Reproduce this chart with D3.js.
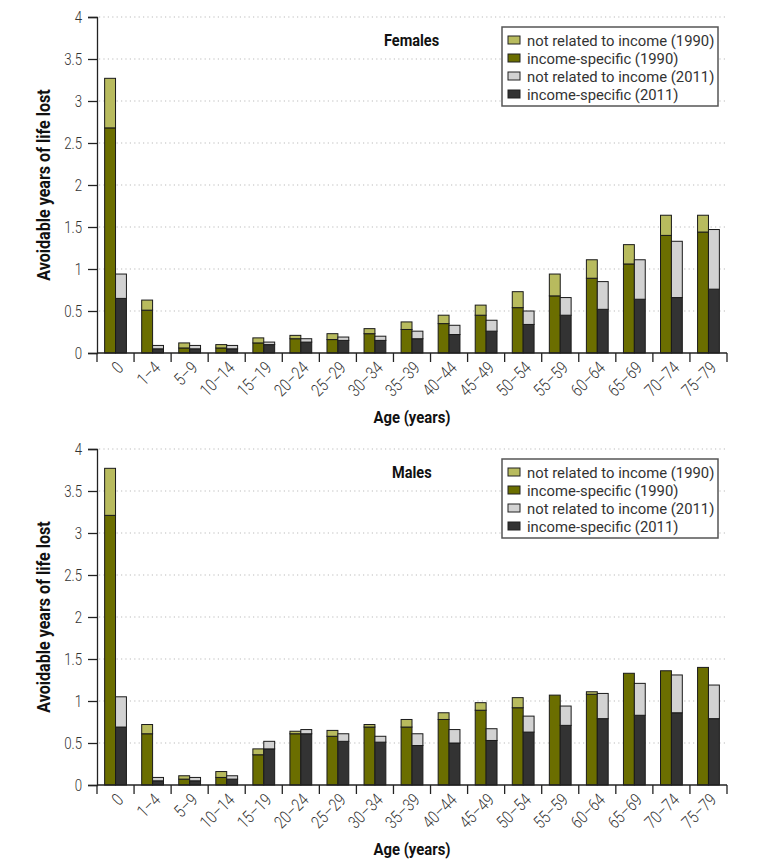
<!DOCTYPE html>
<html>
<head>
<meta charset="utf-8">
<script src="https://cdn.jsdelivr.net/npm/d3@7"></script>
<style>
  body { margin: 0; background: #fff; }
  text { font-family: Roboto, "Noto Sans", sans-serif; }
</style>
</head>
<body>
<script>
// categories
const ages = ["0", "1–4", "5–9", "10–14", "15–19", "20–24", "25–29", "30–34", "35–39",
              "40–44", "45–49", "50–54", "55–59", "60–64", "65–69", "70–74", "75–79"];

// Females
const femIncome1990 = [2.68, 0.51, 0.06, 0.06, 0.12, 0.17, 0.16, 0.23, 0.28, 0.35, 0.45, 0.54, 0.68, 0.89, 1.06, 1.40, 1.44];
const femOther1990  = [0.59, 0.12, 0.06, 0.04, 0.06, 0.04, 0.07, 0.06, 0.09, 0.10, 0.12, 0.19, 0.26, 0.22, 0.23, 0.24, 0.20];
const femIncome2011 = [0.65, 0.05, 0.05, 0.05, 0.10, 0.13, 0.15, 0.15, 0.17, 0.22, 0.26, 0.34, 0.45, 0.52, 0.64, 0.66, 0.76];
const femOther2011  = [0.29, 0.04, 0.04, 0.04, 0.03, 0.04, 0.04, 0.05, 0.09, 0.11, 0.13, 0.16, 0.21, 0.33, 0.47, 0.67, 0.71];

// Males
const maleIncome1990 = [3.21, 0.61, 0.07, 0.09, 0.36, 0.61, 0.58, 0.69, 0.69, 0.78, 0.89, 0.92, 1.07, 1.08, 1.33, 1.36, 1.40];
const maleOther1990  = [0.56, 0.11, 0.04, 0.07, 0.07, 0.03, 0.07, 0.03, 0.09, 0.08, 0.09, 0.12, 0.00, 0.03, 0.00, 0.00, 0.00];
const maleIncome2011 = [0.69, 0.05, 0.05, 0.07, 0.43, 0.61, 0.52, 0.51, 0.47, 0.50, 0.53, 0.63, 0.71, 0.79, 0.83, 0.86, 0.79];
const maleOther2011  = [0.36, 0.04, 0.04, 0.04, 0.09, 0.05, 0.09, 0.07, 0.14, 0.16, 0.14, 0.19, 0.23, 0.30, 0.38, 0.45, 0.40];

const yTicks = [0, 0.5, 1, 1.5, 2, 2.5, 3, 3.5, 4];
const legendLabels = ["not related to income (1990)", "income-specific (1990)",
                      "not related to income (2011)", "income-specific (2011)"];
const colors = ["#b8bb5e", "#6b6e00", "#d2d2d2", "#333333"];

const svg = d3.select("body").append("svg")
    .attr("width", 771)
    .attr("height", 868);

const left = 97, right = 727;

const x = d3.scaleBand().domain(ages).range([left, right]);
const xs = d3.scaleBand().domain(["1990", "2011"]).range([0, x.bandwidth()]).paddingOuter(0.7);

// the original font is condensed, so squeeze the text horizontally (sx)
function label(g, tx, ty, txt, size, weight, anchor, rot, sx) {
    return g.append("text")
        .attr("transform", `translate(${tx},${ty})` + (rot ? ` rotate(${rot})` : "") + ` scale(${sx},1)`)
        .attr("text-anchor", anchor)
        .attr("font-size", size)
        .attr("font-weight", weight)
        .attr("fill", weight == "bold" ? "#111" : "#333")
        .text(txt);
}

function panel(top, title, inc90, oth90, inc11, oth11) {
    const y = d3.scaleLinear().domain([0, 4]).range([top + 336, top]);
    const g = svg.append("g");

    // grid lines
    g.selectAll(".grid").data(yTicks.slice(1)).join("line")
        .attr("x1", left + 2).attr("x2", right)
        .attr("y1", d => y(d)).attr("y2", d => y(d))
        .attr("stroke", "#bbb").attr("stroke-width", 1.2)
        .attr("stroke-dasharray", "1.2,3.2");

    // bars
    const rows = ages.map((a, i) => ({age: a, i90: inc90[i], o90: oth90[i], i11: inc11[i], o11: oth11[i]}));
    const segs = [];
    rows.forEach(r => {
        segs.push({age: r.age, yr: "1990", y0: 0, y1: r.i90, c: colors[1]});
        if (r.o90 > 0) segs.push({age: r.age, yr: "1990", y0: r.i90, y1: r.i90 + r.o90, c: colors[0]});
        segs.push({age: r.age, yr: "2011", y0: 0, y1: r.i11, c: colors[3]});
        if (r.o11 > 0) segs.push({age: r.age, yr: "2011", y0: r.i11, y1: r.i11 + r.o11, c: colors[2]});
    });
    g.selectAll(".bar").data(segs).join("rect")
        .attr("x", d => x(d.age) + xs(d.yr))
        .attr("width", xs.bandwidth())
        .attr("y", d => y(d.y1))
        .attr("height", d => y(d.y0) - y(d.y1))
        .attr("fill", d => d.c)
        .attr("stroke", "#1a1a1a").attr("stroke-width", 1);

    // y axis
    const ay = g.append("g").attr("transform", `translate(${left},0)`)
        .call(d3.axisLeft(y).tickValues(yTicks).tickSize(9).tickFormat(""));
    ay.select(".domain").attr("stroke", "#222").attr("stroke-width", 1.3);
    ay.selectAll(".tick line").attr("stroke", "#222").attr("stroke-width", 1.3);
    yTicks.forEach(t => label(g, left - 15, y(t) + 6, d3.format("")(t), 17, 300, "end", 0, 0.78));

    // x axis with ticks at band boundaries
    const bounds = ages.map(a => x(a)).concat([right]);
    g.append("line").attr("x1", left).attr("x2", right)
        .attr("y1", y(0)).attr("y2", y(0)).attr("stroke", "#222").attr("stroke-width", 1.3);
    g.selectAll(".xt").data(bounds).join("line")
        .attr("x1", d => d).attr("x2", d => d)
        .attr("y1", y(0)).attr("y2", y(0) + 9)
        .attr("stroke", "#222").attr("stroke-width", 1.3);
    ages.forEach(a => label(g, x(a) + x.bandwidth() / 2 + 9, y(0) + 16, a, 17.5, 300, "end", -45, 0.8));

    // axis titles
    label(g, 50, y(2), "Avoidable years of life lost", 17.5, "bold", "middle", -90, 0.92);
    label(g, 412, top + 406, "Age (years)", 16.5, "bold", "middle", 0, 0.9);

    // panel title
    label(g, title === "Females" ? 384 : 392, top + 29, title, 16.5, "bold", "start", 0, 0.88);

    // legend
    const lg = g.append("g").attr("transform", `translate(502,${top + 10})`);
    lg.append("rect").attr("width", 216).attr("height", 79)
        .attr("fill", "#fff").attr("stroke", "#555").attr("stroke-width", 1.5);
    legendLabels.forEach((l, i) => {
        lg.append("rect").attr("x", 6).attr("y", 9 + i * 18)
            .attr("width", 12).attr("height", 8)
            .attr("fill", colors[i]).attr("stroke", "#222").attr("stroke-width", 1);
        label(lg, 25, 18.5 + i * 18, l, 15.3, 400, "start", 0, 0.97);
    });
}

panel(17, "Females", femIncome1990, femOther1990, femIncome2011, femOther2011);
panel(449, "Males", maleIncome1990, maleOther1990, maleIncome2011, maleOther2011);
</script>
</body>
</html>
